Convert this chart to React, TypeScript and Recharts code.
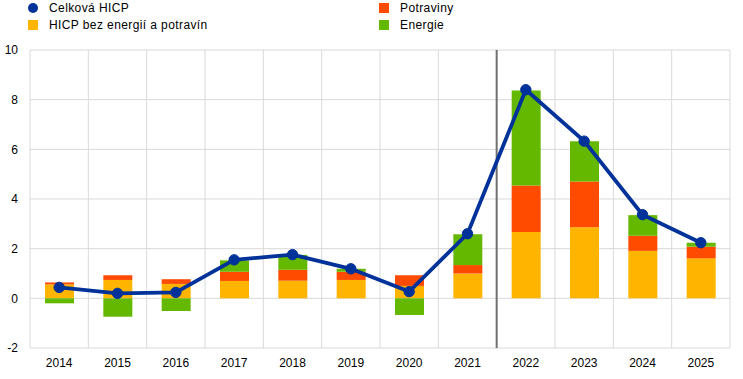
import { ComposedChart, Bar, Line, XAxis, YAxis, CartesianGrid, ReferenceLine } from "recharts"

const years = ["2014", "2015", "2016", "2017", "2018", "2019", "2020", "2021", "2022", "2023", "2024", "2025"]
const headline = [0.44, 0.2, 0.24, 1.55, 1.76, 1.19, 0.27, 2.6, 8.4, 6.33, 3.37, 2.24]
const core = [0.56, 0.74, 0.58, 0.7, 0.71, 0.74, 0.5, 1.0, 2.67, 2.86, 1.91, 1.61]
const food = [0.08, 0.19, 0.19, 0.37, 0.44, 0.33, 0.43, 0.34, 1.87, 1.84, 0.61, 0.47]
const energy = [-0.2, -0.74, -0.51, 0.46, 0.6, 0.12, -0.67, 1.24, 3.83, 1.63, 0.83, 0.16]
const yTicks = [-2, 0, 2, 4, 6, 8, 10]
const gridTicks = [0, 1, 2, 3, 4, 5, 6, 7, 8, 9, 10, 11, 12]

const BLUE = "#003299"
const ORANGE = "#FFB400"
const RED = "#FF4B00"
const GREEN = "#65B800"
const FONT = "Arial, 'Liberation Sans', sans-serif"

const data = years.map((year, i) => ({
  year,
  slot: i + 0.5,
  headline: headline[i],
  core: core[i],
  food: food[i],
  energy: energy[i],
}))

const legendItems = [
  { label: "Celková HICP", color: BLUE, round: true, x: 28, y: 3 },
  { label: "HICP bez energií a potravín", color: ORANGE, round: false, x: 28, y: 20 },
  { label: "Potraviny", color: RED, round: false, x: 379, y: 3 },
  { label: "Energie", color: GREEN, round: false, x: 379, y: 20 },
]

export default function App() {
  return (
    <div style={{ position: "absolute", left: 0, top: 0, width: 743, height: 379, background: "#fff", fontFamily: FONT }}>
      {legendItems.map((item) => (
        <div
          key={item.label}
          style={{ position: "absolute", left: item.x, top: item.y, display: "flex", alignItems: "center", height: 10 }}
        >
          <span
            style={{
              width: 10,
              height: 10,
              background: item.color,
              borderRadius: item.round ? "50%" : 0,
              display: "inline-block",
            }}
          />
          <span style={{ marginLeft: 11, fontSize: 12, letterSpacing: 0.4, color: "#000", whiteSpace: "nowrap" }}>
            {item.label}
          </span>
        </div>
      ))}
      <ComposedChart
        width={743}
        height={379}
        data={data}
        stackOffset="sign"
        margin={{ top: 50, right: 13, bottom: 9, left: 0 }}
        style={{ position: "absolute", left: 0, top: 0 }}
      >
        {/* hidden numeric axis so the vertical grid falls between the years */}
        <XAxis
          xAxisId="grid"
          dataKey="slot"
          type="number"
          domain={[0, 12]}
          allowDataOverflow
          ticks={gridTicks}
          hide
        />
        <CartesianGrid xAxisId="grid" stroke="#d9d9d9" strokeWidth={1} />
        <XAxis
          dataKey="year"
          height={22}
          tickLine={false}
          axisLine={false}
          tickSize={0}
          tickMargin={10}
          tick={{ fontSize: 12, fill: "#000", fontFamily: FONT }}
        />
        <YAxis
          width={30}
          domain={[-2, 10]}
          ticks={yTicks}
          tickLine={false}
          axisLine={false}
          tickSize={0}
          tickMargin={12}
          tick={{ fontSize: 12, fill: "#000", fontFamily: FONT }}
        />
        <Bar dataKey="core" stackId="a" fill={ORANGE} barSize={29} isAnimationActive={false} />
        <Bar dataKey="food" stackId="a" fill={RED} barSize={29} isAnimationActive={false} />
        <Bar dataKey="energy" stackId="a" fill={GREEN} barSize={29} isAnimationActive={false} />
        <ReferenceLine xAxisId="grid" x={8} stroke="#707070" strokeWidth={2} />
        <Line
          dataKey="headline"
          stroke={BLUE}
          strokeWidth={3.8}
          dot={{ r: 5.2, fill: BLUE, stroke: BLUE, strokeWidth: 1 }}
          isAnimationActive={false}
        />
      </ComposedChart>
    </div>
  )
}
